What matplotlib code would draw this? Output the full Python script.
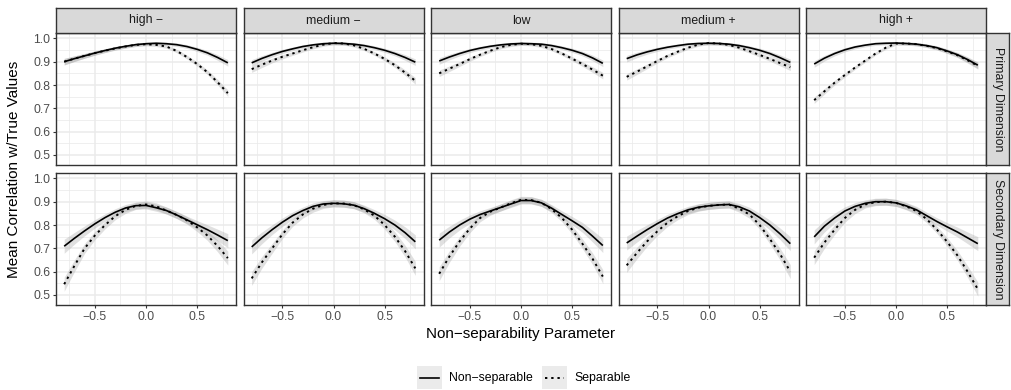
import matplotlib
matplotlib.use("Agg")
import matplotlib.pyplot as plt
from matplotlib.patches import Rectangle
from matplotlib.lines import Line2D
import numpy as np

plt.rcParams['font.family'] = ['Liberation Sans', 'DejaVu Sans']

x_vals = [-0.8, -0.7, -0.6, -0.5, -0.4, -0.3, -0.2, -0.1, 0.0,
          0.1, 0.2, 0.3, 0.4, 0.5, 0.6, 0.7, 0.8]
columns = ["high \u2212", "medium \u2212", "low", "medium +", "high +"]
rows = ["Primary Dimension", "Secondary Dimension"]

# Primary dimension
prim_nonsep = [
    [.900, .913, .925, .937, .948, .958, .966, .973, .977, .979, .977, .973, .965, .953, .938, .918, .895],
    [.895, .914, .930, .944, .955, .965, .972, .977, .979, .978, .975, .969, .960, .949, .935, .918, .898],
    [.903, .920, .935, .948, .958, .966, .972, .976, .978, .977, .975, .969, .960, .949, .935, .916, .893],
    [.913, .929, .942, .953, .962, .969, .975, .978, .979, .978, .975, .969, .960, .949, .935, .917, .897],
    [.890, .915, .935, .951, .963, .971, .977, .979, .980, .978, .975, .969, .960, .946, .930, .909, .885],
]
prim_sep = [
    [.900, .913, .925, .937, .947, .957, .965, .972, .975, .972, .965, .946, .920, .890, .855, .812, .765],
    [.868, .887, .905, .921, .935, .949, .962, .973, .980, .978, .970, .955, .935, .912, .885, .853, .818],
    [.850, .870, .890, .911, .930, .947, .962, .972, .977, .975, .968, .954, .935, .913, .890, .866, .840],
    [.835, .857, .880, .903, .925, .943, .960, .973, .980, .978, .972, .960, .945, .929, .912, .894, .876],
    [.735, .773, .810, .843, .875, .905, .935, .960, .978, .978, .975, .968, .958, .944, .928, .906, .882],
]
# Secondary dimension
sec_nonsep = [
    [.709, .743, .775, .805, .832, .855, .873, .883, .884, .874, .862, .843, .822, .801, .780, .757, .733],
    [.706, .745, .780, .812, .840, .862, .880, .890, .893, .891, .885, .870, .850, .827, .800, .767, .728],
    [.735, .770, .800, .825, .845, .860, .875, .890, .905, .905, .895, .872, .845, .818, .790, .752, .712],
    [.723, .752, .780, .806, .830, .849, .865, .876, .882, .886, .888, .878, .860, .832, .800, .762, .720],
    [.749, .795, .830, .860, .880, .893, .900, .900, .895, .882, .865, .840, .815, .792, .770, .745, .720],
]
sec_sep = [
    [.546, .625, .700, .755, .800, .838, .865, .882, .888, .880, .862, .843, .820, .790, .755, .710, .658],
    [.571, .640, .700, .760, .810, .845, .870, .886, .893, .892, .885, .867, .840, .800, .750, .688, .614],
    [.591, .665, .730, .785, .830, .857, .875, .893, .908, .907, .895, .868, .830, .780, .720, .655, .579],
    [.627, .680, .730, .773, .810, .838, .860, .874, .882, .886, .888, .870, .845, .800, .740, .675, .600],
    [.660, .725, .780, .830, .865, .888, .898, .900, .895, .880, .860, .825, .780, .728, .670, .600, .525],
]
# confidence band half-widths per row
band_prim = [.014, .012, .010, .009, .008, .0075, .007, .007, .007, .007, .007, .0075, .008, .009, .010, .012, .014]
band_sec = [.030, .025, .021, .018, .016, .015, .015, .015, .015, .015, .015, .015, .016, .018, .021, .025, .030]

W, H = 1011, 390
fig = plt.figure(figsize=(W / 100, H / 100), dpi=100)

px0, pw, gap = 56, 180, 7.5
row_tops = [33, 173]
ph = 132
strip_h = 25

def fx(p):
    return p / W

def fy(p):
    return 1 - p / H

data_rows = [(prim_nonsep, prim_sep, band_prim), (sec_nonsep, sec_sep, band_sec)]
grid_c = "#EBEBEB"
x = np.array(x_vals)

for r in range(2):
    ns_all, s_all, band = data_rows[r]
    for c in range(5):
        left = px0 + c * (pw + gap)
        top = row_tops[r]
        ax = fig.add_axes([fx(left), fy(top + ph), pw / W, ph / H])
        ax.set_xlim(-0.88, 0.88)
        ax.set_ylim(0.457, 1.023)
        ax.set_xticks([-0.5, 0.0, 0.5])
        ax.set_xticks([-0.75, -0.25, 0.25, 0.75], minor=True)
        ax.set_yticks([0.5, 0.6, 0.7, 0.8, 0.9, 1.0])
        ax.set_yticks([0.55, 0.65, 0.75, 0.85, 0.95], minor=True)
        ax.grid(True, which='major', color=grid_c, lw=1.1)
        ax.grid(True, which='minor', color=grid_c, lw=0.55)
        ax.set_axisbelow(True)
        ax.tick_params(which='minor', length=0)
        ax.tick_params(which='major', length=2.5, width=0.8, color="#333333",
                       labelsize=8.8, labelcolor="#4D4D4D", pad=1.5)
        for s in ax.spines.values():
            s.set_color("#333333")
            s.set_linewidth(1.0)
        if c > 0:
            ax.tick_params(axis='y', labelleft=False, length=0)
        if r == 0:
            ax.tick_params(axis='x', labelbottom=False, length=0)
        ns = np.array(ns_all[c])
        sp = np.array(s_all[c])
        b = np.array(band)
        ax.fill_between(x, ns - b, ns + b, color="#999999", alpha=0.3, lw=0)
        ax.fill_between(x, sp - b, sp + b, color="#999999", alpha=0.3, lw=0)
        ax.plot(x, ns, color="black", lw=1.2, solid_capstyle='butt', solid_joinstyle='round')
        ax.plot(x, sp, color="black", lw=1.4, dashes=(1.2, 2.0))

        # column strip
        if r == 0:
            sax = fig.add_axes([fx(left), fy(top), pw / W, strip_h / H])
            sax.set_xticks([]); sax.set_yticks([])
            sax.set_facecolor("#D9D9D9")
            for s in sax.spines.values():
                s.set_color("#333333"); s.set_linewidth(1.0)
            sax.text(0.5, 0.5, columns[c], ha='center', va='center',
                     fontsize=8.8, color="#1A1A1A", transform=sax.transAxes)
    # row strip
    rleft = px0 + 5 * pw + 4 * gap
    rax = fig.add_axes([fx(rleft), fy(row_tops[r] + ph), 23 / W, ph / H])
    rax.set_xticks([]); rax.set_yticks([])
    rax.set_facecolor("#D9D9D9")
    for s in rax.spines.values():
        s.set_color("#333333"); s.set_linewidth(1.0)
    rax.text(0.5, 0.5, rows[r], ha='center', va='center', rotation=-90,
             fontsize=8.8, color="#1A1A1A", transform=rax.transAxes)

# axis titles
fig.text(fx(px0 + (5 * pw + 4 * gap) / 2), fy(334), "Non\u2212separability Parameter",
         ha='center', va='center', fontsize=11)
fig.text(fx(14), fy(169), "Mean Correlation w/True Values", ha='center', va='center',
         rotation=90, fontsize=11)

# legend (manual)
lax = fig.add_axes([0, 0, 1, 1], facecolor='none')
lax.set_xlim(0, W); lax.set_ylim(H, 0)
lax.axis('off')
labels = ["Non\u2212separable", "Separable"]
key_x = [417, 542]
for i, kx in enumerate(key_x):
    lax.add_patch(Rectangle((kx, 366), 25, 23, facecolor="#EBEBEB", edgecolor='none'))
    if i == 0:
        lax.add_line(Line2D([kx + 3, kx + 22], [377.5, 377.5], color='black', lw=1.2))
    else:
        lax.add_line(Line2D([kx + 3, kx + 22], [377.5, 377.5], color='black', lw=1.4,
                            dashes=(1.2, 2.0)))
    lax.text(kx + 32, 377.5, labels[i], ha='left', va='center', fontsize=8.8)

fig.savefig("out.png", dpi=100)
